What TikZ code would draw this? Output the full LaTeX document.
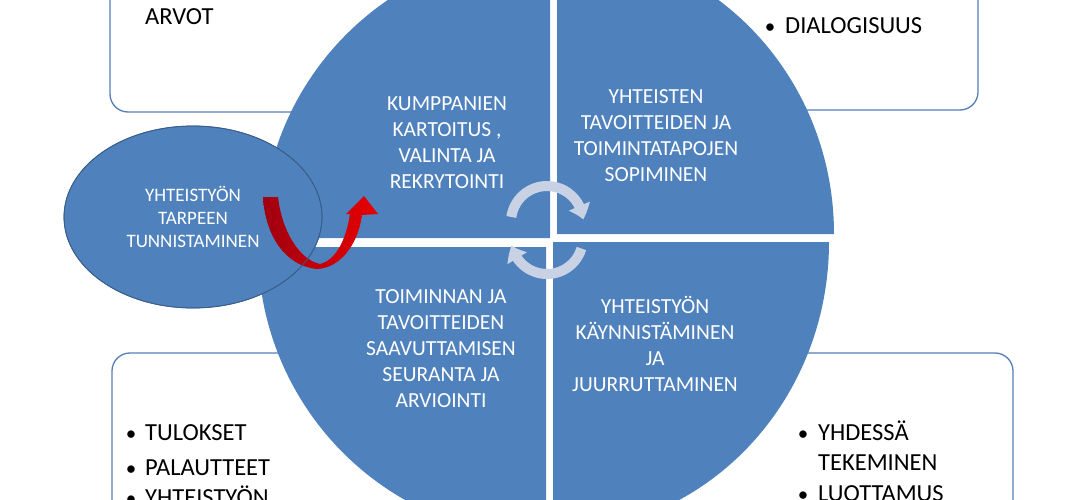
\documentclass[tikz,border=0pt]{standalone}
\usepackage{fontspec}
\setmainfont{Carlito}
\usetikzlibrary{arrows.meta,bending,shapes.geometric}
\definecolor{qblue}{RGB}{79,129,189}
\definecolor{bline}{RGB}{84,126,186}
\definecolor{eline}{RGB}{56,93,138}
\definecolor{cyc}{RGB}{200,210,228}
\definecolor{rdark}{RGB}{160,0,16}
\definecolor{rlight}{RGB}{232,0,0}
\begin{document}
\begin{tikzpicture}[x=1pt,y=-1pt,
  box/.style={draw=bline, line width=1.3pt, fill=white, rounded corners=18pt},
  quad/.style={fill=qblue},
  qtext/.style={text=white, align=center, inner sep=0pt, font=\fontsize{21.5}{26}\selectfont},
  need/.style={ellipse, draw=eline, line width=0.8pt, fill=qblue, minimum width=258pt, minimum height=182pt, inner sep=0pt, text=white, align=center, font=\fontsize{19}{23}\selectfont},
  btext/.style={text=black, inner sep=0pt, anchor=base west, font=\fontsize{24.5}{28}\selectfont},
  bul/.style={text=black, inner sep=0pt, anchor=base, font=\fontsize{21}{28}\selectfont},
  cycarrow/.style={draw=cyc, line width=10pt, -{Triangle[width=22pt,length=14pt,bend]}}
]
\useasboundingbox (0,0) rectangle (1090,500);
\fill[white] (0,0) rectangle (1090,500);

% background boxes
\draw[box] (110,-40) rectangle (520,112);
\draw[box] (600,-40) rectangle (978,110);
\draw[box] (112,353) rectangle (520,540);
\draw[box] (600,353) rectangle (1013,540);

% box texts
\node[btext] (arvot) at (145,25) {ARVOT};
\node[bul] (b1) at (770,34) {•};
\node[btext] (dia) at (785,34) {DIALOGISUUS};
\node[bul] (b2) at (131,440) {•};
\node[btext] (tul) at (145,440) {TULOKSET};
\node[bul] (b3) at (131,475) {•};
\node[btext] (pal) at (145,475) {PALAUTTEET};
\node[bul] (b4) at (131,505) {•};
\node[btext] (yht) at (145,505) {YHTEISTYÖN};
\node[bul] (b5) at (803,440) {•};
\node[btext] (yhd) at (818,440) {YHDESSÄ};
\node[btext] (tek) at (818,470) {TEKEMINEN};
\node[bul] (b6) at (803,501) {•};
\node[btext] (luo) at (818,501) {LUOTTAMUS};

% quadrants
\fill[quad] (550,238) -- (262,238) arc[start angle=180, end angle=270, x radius=288, y radius=288] -- cycle;
\fill[quad] (557,234) -- (557,-54) arc[start angle=270, end angle=360, x radius=277, y radius=288] -- cycle;
\fill[quad] (553,242) -- (829,242) arc[start angle=0, end angle=90, x radius=276, y radius=290] -- cycle;
\fill[quad] (546,247) -- (546,537) arc[start angle=90, end angle=180, x radius=288, y radius=290] -- cycle;

% quadrant texts
\node[qtext] (q1) at (447,143) {KUMPPANIEN\\KARTOITUS ,\\VALINTA JA\\REKRYTOINTI};
\node[qtext] (q2) at (656,136) {YHTEISTEN\\TAVOITTEIDEN JA\\TOIMINTATAPOJEN\\SOPIMINEN};
\node[qtext] (q3) at (441,349) {TOIMINNAN JA\\TAVOITTEIDEN\\SAAVUTTAMISEN\\SEURANTA JA\\ARVIOINTI};
\node[qtext] (q4) at (655,344) {YHTEISTYÖN\\KÄYNNISTÄMINEN\\JA\\JUURRUTTAMINEN};

% central cycle arrows
\coordinate (cu) at (547,222);
\coordinate (cl) at (547,238);
\draw[cycarrow] (cu) ++(188:36) arc[start angle=188, end angle=356, radius=36];
\draw[cycarrow] (cl) ++(17:36) arc[start angle=17, end angle=168, radius=36];

% ellipse
\node[need] (need) at (193,217) {YHTEISTYÖN\\TARPEEN\\TUNNISTAMINEN};

% red U-turn arrow
\shade[left color=rdark, right color=rlight]
  (263,197) .. controls (265,235) and (285,266) .. (317,269)
  .. controls (340,268) and (358,245) .. (362,215)
  -- (378,214) -- (364,196) -- (346,214) -- (350,214)
  .. controls (346,240) and (336,260) .. (320,264)
  .. controls (300,260) and (282,232) .. (278,197) -- cycle;
\draw[eline, line width=0.7pt] (need.center) ellipse[x radius=129, y radius=91];
\end{tikzpicture}
\end{document}
